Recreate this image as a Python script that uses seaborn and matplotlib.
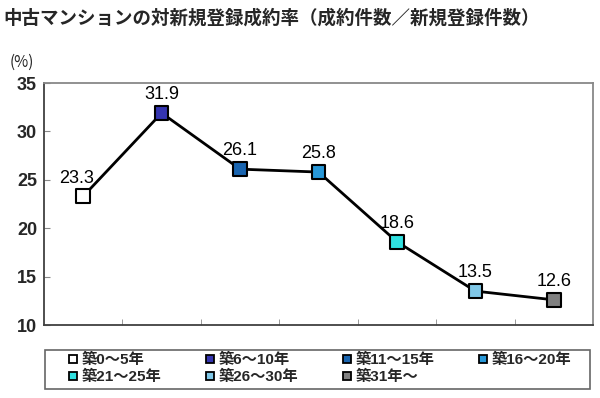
import matplotlib
matplotlib.use("Agg")
import matplotlib.pyplot as plt
from matplotlib.patches import Rectangle
import seaborn as sns
import pandas as pd

# data
age_groups = ["築0～5年", "築6～10年", "築11～15年", "築16～20年",
              "築21～25年", "築26～30年", "築31年～"]
rates = [23.3, 31.9, 26.1, 25.8, 18.6, 13.5, 12.6]
marker_colors = ["#ffffff", "#3535b0", "#1a65b0", "#2898d8",
                 "#30e0e0", "#80c8e8", "#808080"]
y_ticks = [10, 15, 20, 25, 30, 35]

df = pd.DataFrame({"group": age_groups, "rate": rates})
df["pos"] = range(len(df))

sns.set_style("white")
plt.rcParams["font.family"] = ["Liberation Sans", "Noto Sans CJK JP", "DejaVu Sans"]

fig = plt.figure(figsize=(6, 3.98), dpi=100)
ax = fig.add_axes([44 / 600, 1 - 325 / 398, (593 - 44) / 600, (325 - 83) / 398])

sns.lineplot(data=df, x="pos", y="rate", color="black", linewidth=2, ax=ax,
             legend=False, zorder=2)
sns.scatterplot(data=df, x="pos", y="rate", hue="group",
                palette=dict(zip(age_groups, marker_colors)),
                marker="s", s=95, edgecolor="black", linewidth=1.5,
                ax=ax, legend=False, zorder=3)

for x, y in zip(df["pos"], df["rate"]):
    dx = -5 if x == 0 else 0  # first label sits a bit left of its marker
    ax.annotate(f"{y:.1f}", (x, y), xytext=(dx, 7), textcoords="offset points",
                ha="center", va="bottom", fontsize=13, color="black")

ax.set_xlim(-0.5, len(age_groups) - 0.5)
ax.set_ylim(10, 35)
ax.set_yticks(y_ticks)
ax.set_yticklabels([str(t) for t in y_ticks], fontsize=13, fontweight="bold")
ax.set_xticks([])
ax.set_xticks([i + 0.5 for i in range(len(age_groups) - 1)], minor=True)
ax.tick_params(axis="x", which="minor", direction="in", length=4,
               color="#888888", bottom=True)
ax.tick_params(axis="y", direction="in", length=4, color="#888888", left=True,
               pad=5)
ax.set_xlabel("")
ax.set_ylabel("")

for side in ["left", "bottom"]:
    ax.spines[side].set_color("#404040")
    ax.spines[side].set_linewidth(1.3)
for side in ["top", "right"]:
    ax.spines[side].set_color("#888888")
    ax.spines[side].set_linewidth(1.3)

fig.text(3 / 600, 1 - 18 / 398, "中古マンションの対新規登録成約率（成約件数／新規登録件数）",
         fontsize=13.3, fontweight="bold", family=["Noto Sans CJK JP"],
         va="center", ha="left")
fig.text(10 / 600, 1 - 62 / 398, "(%)", fontsize=11, va="center", ha="left",
         family=["Noto Sans CJK JP"])

# legend box drawn separately, entries laid out row by row
fig.patches.append(Rectangle((45 / 600, 1 - 389 / 398), (590 - 45) / 600, 39 / 398,
                             transform=fig.transFigure, fill=False,
                             edgecolor="#666666", linewidth=1.2))
order = [0, 4, 1, 5, 2, 6, 3]
handles = [plt.Line2D([], [], marker="s", linestyle="", markersize=6,
                      markerfacecolor=marker_colors[i], markeredgecolor="black",
                      markeredgewidth=1.3) for i in order]
labels = [age_groups[i] for i in order]
leg = fig.legend(handles, labels, ncol=4,
                 bbox_to_anchor=(68 / 600, 1 - 368.5 / 398),
                 loc="center left", frameon=False,
                 handlelength=0.7, handletextpad=0.2, columnspacing=2.85,
                 borderpad=0, labelspacing=0.2, borderaxespad=0,
                 prop={"family": ["Liberation Sans", "Noto Sans CJK JP"],
                       "size": 11, "weight": "bold"})

fig.savefig("out.png", dpi=100)
